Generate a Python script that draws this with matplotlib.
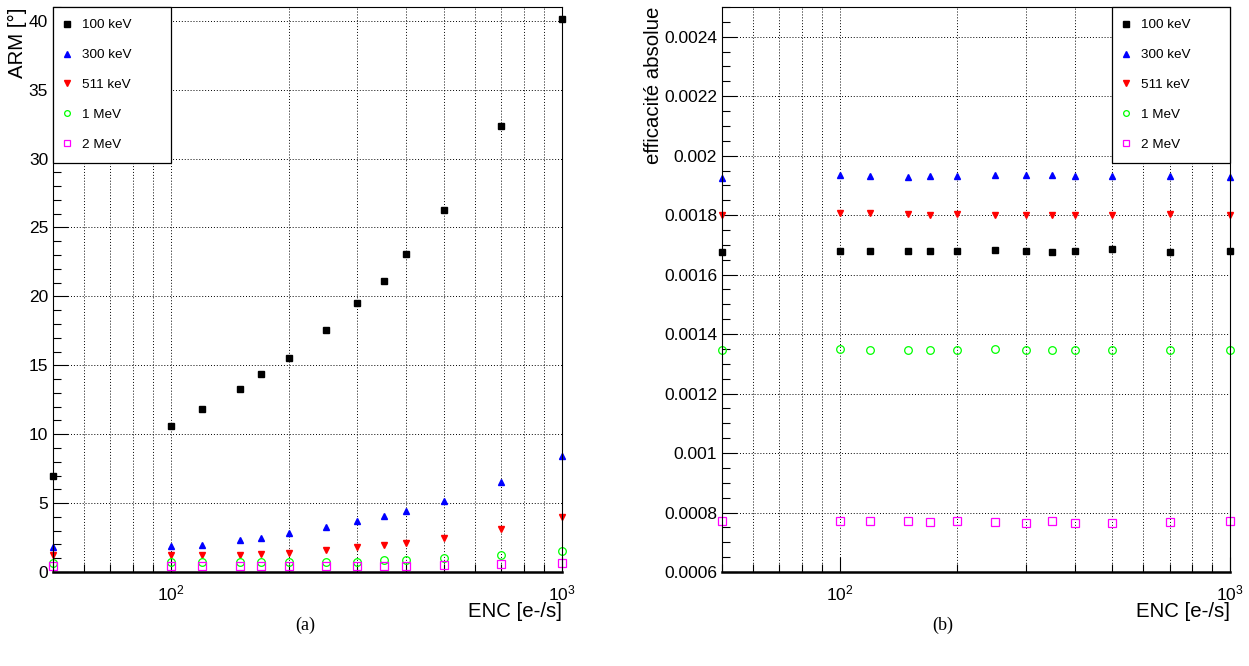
import numpy as np
import matplotlib
matplotlib.use("Agg")
import matplotlib.pyplot as plt
from matplotlib.ticker import FixedLocator, FuncFormatter, MultipleLocator, NullFormatter

plt.rcParams['font.family'] = ['Liberation Sans', 'DejaVu Sans']
plt.rcParams['mathtext.fontset'] = 'custom'
plt.rcParams['mathtext.rm'] = 'Liberation Sans'
plt.rcParams['mathtext.it'] = 'Liberation Sans:italic'

# ENC values (x axis)
enc = [50, 100, 120, 150, 170, 200, 250, 300, 350, 400, 500, 700, 1000]

# ARM [deg] per energy
arm_100kev = [7.0, 10.6, 11.8, 13.25, 14.35, 15.5, 17.55, 19.5, 21.15, 23.05, 26.3, 32.4, 40.1]
arm_300kev = [1.8, 1.9, 1.95, 2.3, 2.5, 2.85, 3.3, 3.7, 4.1, 4.45, 5.15, 6.5, 8.45]
arm_511kev = [1.2, 1.22, 1.25, 1.25, 1.3, 1.36, 1.6, 1.8, 1.98, 2.12, 2.47, 3.1, 4.0]
arm_1mev = [0.68, 0.7, 0.7, 0.7, 0.7, 0.74, 0.74, 0.76, 0.84, 0.88, 0.98, 1.22, 1.5]
arm_2mev = [0.45, 0.42, 0.42, 0.42, 0.42, 0.42, 0.44, 0.44, 0.44, 0.46, 0.48, 0.57, 0.68]

# absolute efficiency per energy
eff_100kev = [0.001675, 0.001678, 0.00168, 0.00168, 0.001678, 0.00168, 0.001683,
              0.00168, 0.001675, 0.00168, 0.001686, 0.001675, 0.00168]
eff_300kev = [0.001926, 0.001935, 0.00193, 0.001927, 0.001932, 0.00193, 0.001935,
              0.001935, 0.001934, 0.00193, 0.00193, 0.00193, 0.001927]
eff_511kev = [0.001799, 0.001806, 0.001806, 0.001804, 0.0018, 0.001804, 0.0018,
              0.0018, 0.001799, 0.0018, 0.001799, 0.001804, 0.0018]
eff_1mev = [0.001348, 0.001349, 0.001348, 0.001347, 0.001346, 0.001347, 0.001349,
            0.001347, 0.001347, 0.001348, 0.001348, 0.001346, 0.001348]
eff_2mev = [0.000771, 0.00077, 0.000771, 0.00077, 0.000767, 0.000772, 0.000769,
            0.000766, 0.000771, 0.000766, 0.000766, 0.000767, 0.00077]

labels = ["100 keV", "300 keV", "511 keV", "1 MeV", "2 MeV"]
styles = [dict(marker='s', color='black', ms=5, mfc='black', mec='black'),
          dict(marker='^', color='#0000ff', ms=5, mfc='#0000ff', mec='#0000ff'),
          dict(marker='v', color='#ff0000', ms=5, mfc='#ff0000', mec='#ff0000'),
          dict(marker='o', color='#00ff00', ms=5.5, mfc='none', mec='#00ff00', mew=0.9),
          dict(marker='s', color='#ff00ff', ms=6, mfc='none', mec='#ff00ff', mew=0.9)]

W, H = 1249, 666
fig = plt.figure(figsize=(W/100, H/100), dpi=100)
ax1 = fig.add_axes([53/W, 1-572/H, (562-53)/W, (572-7)/H])
ax2 = fig.add_axes([722/W, 1-572/H, (1230-722)/W, (572-7)/H])


def style_axes(ax):
    ax.set_xscale('log')
    ax.set_xlim(50, 1000)
    ax.xaxis.set_major_locator(FixedLocator([100, 1000]))
    ax.xaxis.set_minor_locator(FixedLocator([50, 60, 70, 80, 90, 200, 300, 400, 500,
                                             600, 700, 800, 900]))
    ax.xaxis.set_major_formatter(FuncFormatter(
        lambda v, p: r'$\mathregular{10^{%d}}$' % round(np.log10(v))))
    ax.xaxis.set_minor_formatter(NullFormatter())
    ax.grid(True, which='major', axis='both', color='black', ls=(0, (1, 2)), lw=0.7)
    ax.grid(True, which='minor', axis='x', color='black', ls=(0, (1, 2)), lw=0.7)
    ax.tick_params(which='both', direction='in', top=False, right=False,
                   labelsize=12.5, colors='black')
    ax.tick_params(which='major', length=11, width=0.8)
    ax.tick_params(which='minor', length=6, width=0.8)
    ax.tick_params(axis='x', which='major', pad=8)
    for s in ['top', 'right', 'left']:
        ax.spines[s].set_linewidth(0.8)
    ax.spines['bottom'].set_linewidth(1.8)
    ax.set_axisbelow(True)
    ax.set_xlabel('ENC [e-/s]', fontsize=14.7, loc='right', labelpad=-1)


style_axes(ax1)
for y, lab, st in zip([arm_100kev, arm_300kev, arm_511kev, arm_1mev, arm_2mev], labels, styles):
    ax1.plot(enc, y, ls='none', label=lab, clip_on=False, **st)
ax1.set_ylim(0, 41)
ax1.yaxis.set_major_locator(MultipleLocator(5))
ax1.yaxis.set_minor_locator(MultipleLocator(1))
ax1.set_ylabel('ARM [°]', fontsize=14.7, loc='top', labelpad=1)

style_axes(ax2)
for y, lab, st in zip([eff_100kev, eff_300kev, eff_511kev, eff_1mev, eff_2mev], labels, styles):
    ax2.plot(enc, y, ls='none', label=lab, clip_on=False, **st)
ax2.set_ylim(0.0006, 0.0025)
ax2.yaxis.set_major_locator(MultipleLocator(0.0002))
ax2.yaxis.set_minor_locator(MultipleLocator(0.00005))
ax2.yaxis.set_major_formatter(FuncFormatter(lambda v, p: '%g' % round(v, 6)))
ax2.set_ylabel('efficacité absolue', fontsize=14.7, loc='top', labelpad=1)

for ax, width_px in [(ax1, 562 - 53), (ax2, 1230 - 722)]:
    w = 118 / width_px
    x0 = 0 if ax is ax1 else 1 - w
    leg = ax.legend(loc='upper left', bbox_to_anchor=(x0, 0, w, 1), mode='expand',
                    fontsize=9.7, frameon=True, fancybox=False, framealpha=1,
                    edgecolor='black', borderaxespad=0, borderpad=0.88,
                    labelspacing=1.3, handlelength=0.32, handletextpad=0.95,
                    markerscale=0.75)
    leg.get_frame().set_linewidth(0.9)
    leg.set_zorder(5)

fig.text(305/W, 1-625/H, '(a)', family='Liberation Serif', fontsize=13,
         ha='center', va='center')
fig.text(943/W, 1-625/H, '(b)', family='Liberation Serif', fontsize=13,
         ha='center', va='center')

fig.savefig('out.png', dpi=100)
